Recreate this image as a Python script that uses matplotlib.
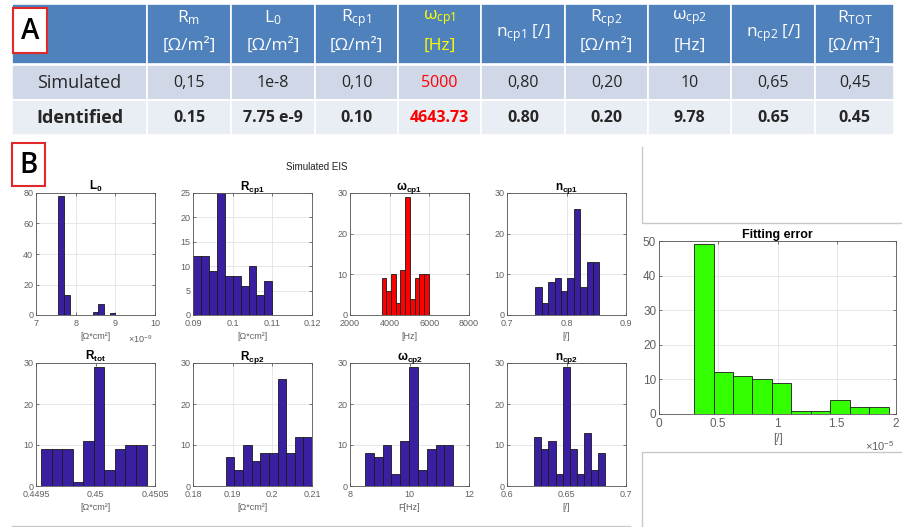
import numpy as np
import matplotlib
matplotlib.use('Agg')
from matplotlib import pyplot as plt
from matplotlib.patches import Rectangle

W, H = 902, 527

plt.rcParams['font.family'] = ['Liberation Sans', 'DejaVu Sans']
plt.rcParams['mathtext.fontset'] = 'custom'
plt.rcParams['mathtext.rm'] = 'Liberation Sans'
plt.rcParams['mathtext.it'] = 'Liberation Sans:italic'
plt.rcParams['mathtext.bf'] = 'Liberation Sans:bold'

# ---- table A
header_names = [r'R_{m}', r'L_{0}', r'R_{cp1}', r'ω_{cp1}', r'n_{cp1}',
                r'R_{cp2}', r'ω_{cp2}', r'n_{cp2}', r'R_{TOT}']
header_units = ['[Ω/m²]', '[Ω/m²]', '[Ω/m²]', '[Hz]', '[/]',
                '[Ω/m²]', '[Hz]', '[/]', '[Ω/m²]']
row_names = ['Simulated', 'Identified']
simulated = ['0,15', '1e-8', '0,10', '5000', '0,80', '0,20', '10', '0,65', '0,45']
identified = ['0.15', '7.75 e-9', '0.10', '4643.73', '0.80', '0.20', '9.78', '0.65', '0.45']
highlight_col = 3

# ---- panel B histograms (bin range, counts)
L0_range = (7.563, 9.0)          # x 1e-9
L0_counts = [78, 13, 0, 0, 0, 0, 2, 7, 0, 1]
Rcp1_range = (0.09, 0.11)
Rcp1_counts = [12, 12, 9, 25, 8, 8, 6, 10, 4, 7]
wcp1_range = (3592, 5970)
wcp1_counts = [9, 6, 10, 3, 11, 29, 4, 9, 10, 10]
ncp1_range = (0.7475, 0.8553)
ncp1_counts = [7, 3, 8, 9, 6, 9, 26, 7, 13, 13]
Rtot_range = (0.449542, 0.450429)
Rtot_counts = [9, 9, 9, 1, 11, 29, 4, 9, 10, 10]
Rcp2_range = (0.18826, 0.21)
Rcp2_counts = [7, 4, 10, 6, 8, 8, 26, 8, 12, 12]
wcp2_range = (8.5, 11.47)
wcp2_counts = [8, 7, 10, 3, 11, 29, 4, 9, 10, 10]
ncp2_range = (0.623, 0.6823)
ncp2_counts = [12, 9, 11, 3, 29, 9, 3, 13, 4, 8]

# ---- panel C
err_range = (0.296, 1.938)       # x 1e-5
err_counts = [49, 12, 11, 10, 9, 1, 1, 4, 2, 2]

BLUE = '#3A1FA0'
RED = '#FF0000'
GREEN = '#33FF00'
TICK_GRAY = '#606060'


def add_axes_px(fig, x0, y0, x1, y1):
    return fig.add_axes([x0 / W, 1 - y1 / H, (x1 - x0) / W, (y1 - y0) / H])


def draw_hist(ax, rng, counts, color):
    edges = np.linspace(rng[0], rng[1], len(counts) + 1)
    ax.bar(edges[:-1], counts, width=np.diff(edges), align='edge',
           color=color, edgecolor='#1a1a1a', linewidth=0.6, zorder=2)


def style(ax, xlim, xticks, xlabels, ylim, yticks, fs=6.5):
    ax.set_xlim(xlim)
    ax.set_xticks(xticks, xlabels)
    ax.set_ylim(ylim)
    ax.set_yticks(yticks, [str(v) for v in yticks])
    ax.tick_params(direction='in', length=2.5, width=0.5, top=True, right=True,
                   labelsize=fs, labelcolor=TICK_GRAY, color='#444444', pad=2)
    ax.tick_params(axis='x', pad=3)
    ax.grid(True, color='#E3E3E3', linewidth=0.6)
    ax.set_axisbelow(True)
    for s in ax.spines.values():
        s.set_color('#555555')
        s.set_linewidth(0.6)


fig = plt.figure(figsize=(W / 100, H / 100), dpi=100)

bg = fig.add_axes([0, 0, 1, 1])
bg.set_xlim(0, W)
bg.set_ylim(H, 0)
bg.axis('off')

# table
col_edges = [12, 147, 231, 315, 398, 481, 565, 648, 731, 815, 894]
row_spans = [(4, 64), (65, 100), (100, 135)]
row_colors = ['#4F81BD', '#D0D8E8', '#E9EDF4']
for (y0, y1), c in zip(row_spans, row_colors):
    for i in range(len(col_edges) - 1):
        bg.add_patch(Rectangle((col_edges[i], y0), col_edges[i + 1] - col_edges[i], y1 - y0,
                               facecolor=c, edgecolor='white', linewidth=1.2))

tfont = ['Open Sans', 'DejaVu Sans']
for i, (name, unit) in enumerate(zip(header_names, header_units)):
    cx = (col_edges[i + 1] + col_edges[i + 2]) / 2
    col = '#FFFF00' if i == highlight_col else 'white'
    if unit == '[/]':
        bg.text(cx, 33, r'$\mathregular{' + name + '}$' + ' [/]', ha='center', va='center',
                fontsize=12.5, color=col, family=tfont)
    else:
        bg.text(cx, 18, r'$\mathregular{' + name + '}$', ha='center', va='center',
                fontsize=12.5, color=col, family=tfont)
        bg.text(cx, 46, unit, ha='center', va='center', fontsize=12.5, color=col, family=tfont)

row_y = [83, 118]
for r, (label, vals) in enumerate(zip(row_names, [simulated, identified])):
    wt = 'bold' if r == 1 else 'normal'
    bg.text((col_edges[0] + col_edges[1]) / 2, row_y[r], label, ha='center', va='center',
            fontsize=13, fontweight=wt, color='#262626', family=tfont)
    for i, v in enumerate(vals):
        cx = (col_edges[i + 1] + col_edges[i + 2]) / 2
        col = RED if i == highlight_col else '#262626'
        bg.text(cx, row_y[r], v, ha='center', va='center', fontsize=11.5,
                fontweight=wt, color=col, family=tfont)

# panel label boxes
for (x, y, w, h, letter) in [(13, 8, 34, 45, 'A'), (12, 143, 33, 43, 'B'), (858, 244, 32, 44, 'C')]:
    bg.add_patch(Rectangle((x, y), w, h, facecolor='white', edgecolor='#E02828', linewidth=1.5, zorder=5))
    bg.text(x + w / 2, y + h / 2 + 1, letter, ha='center', va='center', fontsize=20,
            fontweight='semibold', color='black', family=tfont, zorder=6)

# screenshot frame lines
lc = '#C8C8C8'
bg.plot([642, 642, 902], [147, 223, 223], color=lc, lw=1)
bg.plot([642, 642, 902], [527, 452, 452], color=lc, lw=1)
bg.plot([12, 630], [526, 526], color=lc, lw=1)

bg.text(317, 167, 'Simulated EIS', ha='center', va='center', fontsize=7, color='#222222')

# panel B
cols_x = [36, 193, 350, 507]
ax_w = 119
row1 = (193, 315)
row2 = (363, 486)

specs = [
    (row1, 0, L0_range, L0_counts, BLUE, r'$\mathbf{L_0}$', '[Ω*cm²]',
     (7, 10), [7, 8, 9, 10], ['7', '8', '9', '10'], (0, 80), [0, 20, 40, 60, 80]),
    (row1, 1, Rcp1_range, Rcp1_counts, BLUE, r'$\mathbf{R_{cp1}}$', '[Ω*cm²]',
     (0.09, 0.12), [0.09, 0.1, 0.11, 0.12], ['0.09', '0.1', '0.11', '0.12'], (0, 25), [0, 5, 10, 15, 20, 25]),
    (row1, 2, wcp1_range, wcp1_counts, RED, r'$\mathbf{\omega_{cp1}}$', '[Hz]',
     (2000, 8000), [2000, 4000, 6000, 8000], ['2000', '4000', '6000', '8000'], (0, 30), [0, 10, 20, 30]),
    (row1, 3, ncp1_range, ncp1_counts, BLUE, r'$\mathbf{n_{cp1}}$', '[/]',
     (0.7, 0.9), [0.7, 0.8, 0.9], ['0.7', '0.8', '0.9'], (0, 30), [0, 10, 20, 30]),
    (row2, 0, Rtot_range, Rtot_counts, BLUE, r'$\mathbf{R_{tot}}$', '[Ω*cm²]',
     (0.4495, 0.4505), [0.4495, 0.45, 0.4505], ['0.4495', '0.45', '0.4505'], (0, 30), [0, 10, 20, 30]),
    (row2, 1, Rcp2_range, Rcp2_counts, BLUE, r'$\mathbf{R_{cp2}}$', '[Ω*cm²]',
     (0.18, 0.21), [0.18, 0.19, 0.2, 0.21], ['0.18', '0.19', '0.2', '0.21'], (0, 30), [0, 10, 20, 30]),
    (row2, 2, wcp2_range, wcp2_counts, BLUE, r'$\mathbf{\omega_{cp2}}$', 'F[Hz]',
     (8, 12), [8, 10, 12], ['8', '10', '12'], (0, 30), [0, 10, 20, 30]),
    (row2, 3, ncp2_range, ncp2_counts, BLUE, r'$\mathbf{n_{cp2}}$', '[/]',
     (0.6, 0.7), [0.6, 0.65, 0.7], ['0.6', '0.65', '0.7'], (0, 30), [0, 10, 20, 30]),
]

for (rw, ci, rng, counts, color, title, xlabel, xlim, xt, xtl, ylim, yt) in specs:
    ax = add_axes_px(fig, cols_x[ci], rw[0], cols_x[ci] + ax_w, rw[1])
    draw_hist(ax, rng, counts, color)
    style(ax, xlim, xt, xtl, ylim, yt)
    ax.set_title(title, fontsize=8.5, pad=2)
    ax.set_xlabel(xlabel, fontsize=6.5, color=TICK_GRAY, labelpad=3)

bg.text(140, 339, r'$\times10^{-9}$', ha='center', va='center', fontsize=6.5, color=TICK_GRAY)

# panel C
axc = add_axes_px(fig, 659, 241, 896, 414)
draw_hist(axc, err_range, err_counts, GREEN)
style(axc, (0, 2), [0, 0.5, 1, 1.5, 2], ['0', '0.5', '1', '1.5', '2'],
      (0, 50), [0, 10, 20, 30, 40, 50], fs=8.5)
axc.set_title('Fitting error', fontsize=9, fontweight='bold', pad=2)
axc.set_xlabel('[/]', fontsize=8.5, color=TICK_GRAY, labelpad=2)
bg.text(880, 446, r'$\times10^{-5}$', ha='center', va='center', fontsize=8, color=TICK_GRAY)

fig.savefig('out.png', dpi=100)
plt.close(fig)
